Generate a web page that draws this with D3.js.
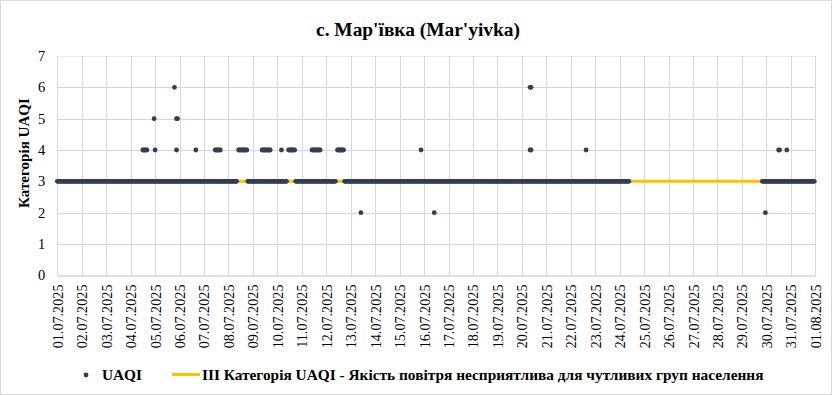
<!DOCTYPE html>
<html>
<head>
<meta charset="utf-8">
<script src="https://cdn.jsdelivr.net/npm/d3@7"></script>
<style>
  html, body { margin: 0; padding: 0; background: #fff; }
  svg { display: block; }
</style>
</head>
<body>
<svg id="chart" width="832" height="395"></svg>
<script>
// ---- DATA (hours since 01.07.2025 00:00) ----
const title = "с. Мар'ївка (Mar'yivka)";
const yAxisTitle = "Категорія UAQI";
const seriesName = "UAQI";
const thresholdName = "ІІІ Категорія UAQI - Якість повітря несприятлива для чутливих груп населення";
const thresholdValue = 3;
const startDate = "2025-07-01";
const endDate = "2025-08-01";
const yTicks = [0, 1, 2, 3, 4, 5, 6, 7];
// hourly runs where UAQI category = 3 (inclusive start/end hours)
const level3RunStart = [0, 187, 234, 282, 692];
const level3RunEnd   = [176, 225, 273, 561, 743];
// hours with other categories
const otherHours = [84, 85, 86, 87, 88, 95, 96, 115, 117, 118, 117, 136,
  155, 156, 157, 158, 159, 160,
  178, 179, 180, 181, 182, 183, 184, 185, 186,
  201, 202, 203, 204, 205, 206, 207, 208, 209,
  220,
  227, 228, 229, 230, 231, 232, 233,
  250, 251, 252, 253, 254, 255, 256, 257, 258,
  275, 276, 277, 278, 279, 280, 281,
  298, 357, 370, 464, 465, 464, 465, 519, 695, 708, 709, 716];
const otherValues = [4, 4, 4, 4, 4, 5, 4, 6, 5, 5, 4, 4,
  4, 4, 4, 4, 4, 4,
  4, 4, 4, 4, 4, 4, 4, 4, 4,
  4, 4, 4, 4, 4, 4, 4, 4, 4,
  4,
  4, 4, 4, 4, 4, 4, 4,
  4, 4, 4, 4, 4, 4, 4, 4, 4,
  4, 4, 4, 4, 4, 4, 4,
  2, 4, 2, 6, 6, 4, 4, 4, 2, 4, 4, 4];

// ---- BUILD POINTS ----
const t0 = new Date(startDate + "T00:00:00Z");
const t1 = new Date(endDate + "T00:00:00Z");
const hourToDate = h => new Date(t0.getTime() + h * 3600000);
const points = [];
level3RunStart.forEach((s, i) => {
  for (let h = s; h <= level3RunEnd[i]; h++) points.push({ t: hourToDate(h), v: 3 });
});
otherHours.forEach((h, i) => points.push({ t: hourToDate(h), v: otherValues[i] }));

// ---- CHART ----
const svg = d3.select("#chart");
const W = 832, H = 395;
const m = { left: 57.3, right: 832 - 815.3, top: 56, bottom: 395 - 275.3 };
const serif = '"Liberation Serif", "Tinos", "Times New Roman", serif';
const dotColor = "#333f50";
const lineColor = "#ffc000";

// fit a text element's font size so its width matches a target width
function fitWidth(sel, target) {
  const n = sel.node();
  const fs = parseFloat(sel.attr("font-size"));
  const w = n.getComputedTextLength();
  if (w > 0) sel.attr("font-size", (fs * target / w).toFixed(2));
  return sel;
}

svg.append("rect").attr("x", 0.5).attr("y", 0.5).attr("width", W - 1).attr("height", H - 1)
  .attr("fill", "#fff").attr("stroke", "#d9d9d9");

const x = d3.scaleUtc().domain([t0, t1]).range([m.left, W - m.right]);
const y = d3.scaleLinear().domain([0, 7]).range([H - m.bottom, m.top]);

const days = d3.utcDay.range(t0, new Date(t1.getTime() + 1));

// horizontal gridlines
svg.append("g").selectAll("line").data(yTicks.slice(1)).join("line")
  .attr("x1", m.left).attr("x2", W - m.right)
  .attr("y1", d => Math.round(y(d)) + 0.5).attr("y2", d => Math.round(y(d)) + 0.5)
  .attr("stroke", d => d === 7 ? "#e6ecf6" : "#c9d6ec").attr("stroke-width", 1);

// vertical gridlines
svg.append("g").selectAll("line").data(days).join("line")
  .attr("x1", d => Math.round(x(d)) + 0.5).attr("x2", d => Math.round(x(d)) + 0.5)
  .attr("y1", m.top).attr("y2", H - m.bottom)
  .attr("stroke", "#d9d9d9").attr("stroke-width", 1);

// x axis
const xAxis = svg.append("g")
  .attr("transform", `translate(0,${Math.round(H - m.bottom) + 0.5})`)
  .call(d3.axisBottom(x).tickValues(days).tickFormat(d3.utcFormat("%d.%m.%Y")).tickSize(0).tickPadding(0));
xAxis.attr("font-family", serif).attr("font-size", 14);
xAxis.select(".domain").attr("stroke", "#bfbfbf");
xAxis.selectAll("text")
  .style("font-family", serif).attr("font-size", 14.2).attr("fill", "#000")
  .attr("transform", "rotate(-90)")
  .attr("text-anchor", "end")
  .attr("x", -9).attr("y", 0).attr("dy", "0.35em");

// y axis
const yAxis = svg.append("g")
  .attr("transform", `translate(${m.left},0)`)
  .call(d3.axisLeft(y).tickValues(yTicks).tickFormat(d3.format("d")).tickSize(0).tickPadding(12));
yAxis.attr("font-family", serif).attr("font-size", 14);
yAxis.select(".domain").remove();
yAxis.selectAll("text").style("font-family", serif).attr("font-size", 14.5).attr("fill", "#000");

// threshold line
svg.append("line")
  .attr("x1", x(t0)).attr("x2", x(t1))
  .attr("y1", y(thresholdValue)).attr("y2", y(thresholdValue))
  .attr("stroke", lineColor).attr("stroke-width", 3);

// dots
svg.append("g").selectAll("circle").data(points).join("circle")
  .attr("cx", d => x(d.t)).attr("cy", d => y(d.v)).attr("r", 2.4)
  .attr("fill", dotColor);

// title
const tt = svg.append("text").attr("x", 418).attr("y", 36).attr("text-anchor", "middle")
  .style("font-family", serif).attr("font-weight", "bold").attr("font-size", 18)
  .text(title);
fitWidth(tt, 204);

// y axis title
const yt = svg.append("text").attr("transform", "translate(29,153) rotate(-90)")
  .attr("text-anchor", "middle")
  .style("font-family", serif).attr("font-weight", "bold").attr("font-size", 15)
  .text(yAxisTitle);
fitWidth(yt, 110);

// legend
const lg = svg.append("g");
lg.append("circle").attr("cx", 86).attr("cy", 375).attr("r", 2.4).attr("fill", dotColor);
const l1 = lg.append("text").attr("x", 102).attr("y", 380)
  .style("font-family", serif).attr("font-weight", "bold").attr("font-size", 15)
  .text(seriesName);
fitWidth(l1, 40);
lg.append("line").attr("x1", 172).attr("x2", 200).attr("y1", 374.5).attr("y2", 374.5)
  .attr("stroke", lineColor).attr("stroke-width", 3);
const l2 = lg.append("text").attr("x", 202).attr("y", 380)
  .style("font-family", serif).attr("font-weight", "bold").attr("font-size", 15)
  .text(thresholdName);
fitWidth(l2, 562);
</script>
</body>
</html>
